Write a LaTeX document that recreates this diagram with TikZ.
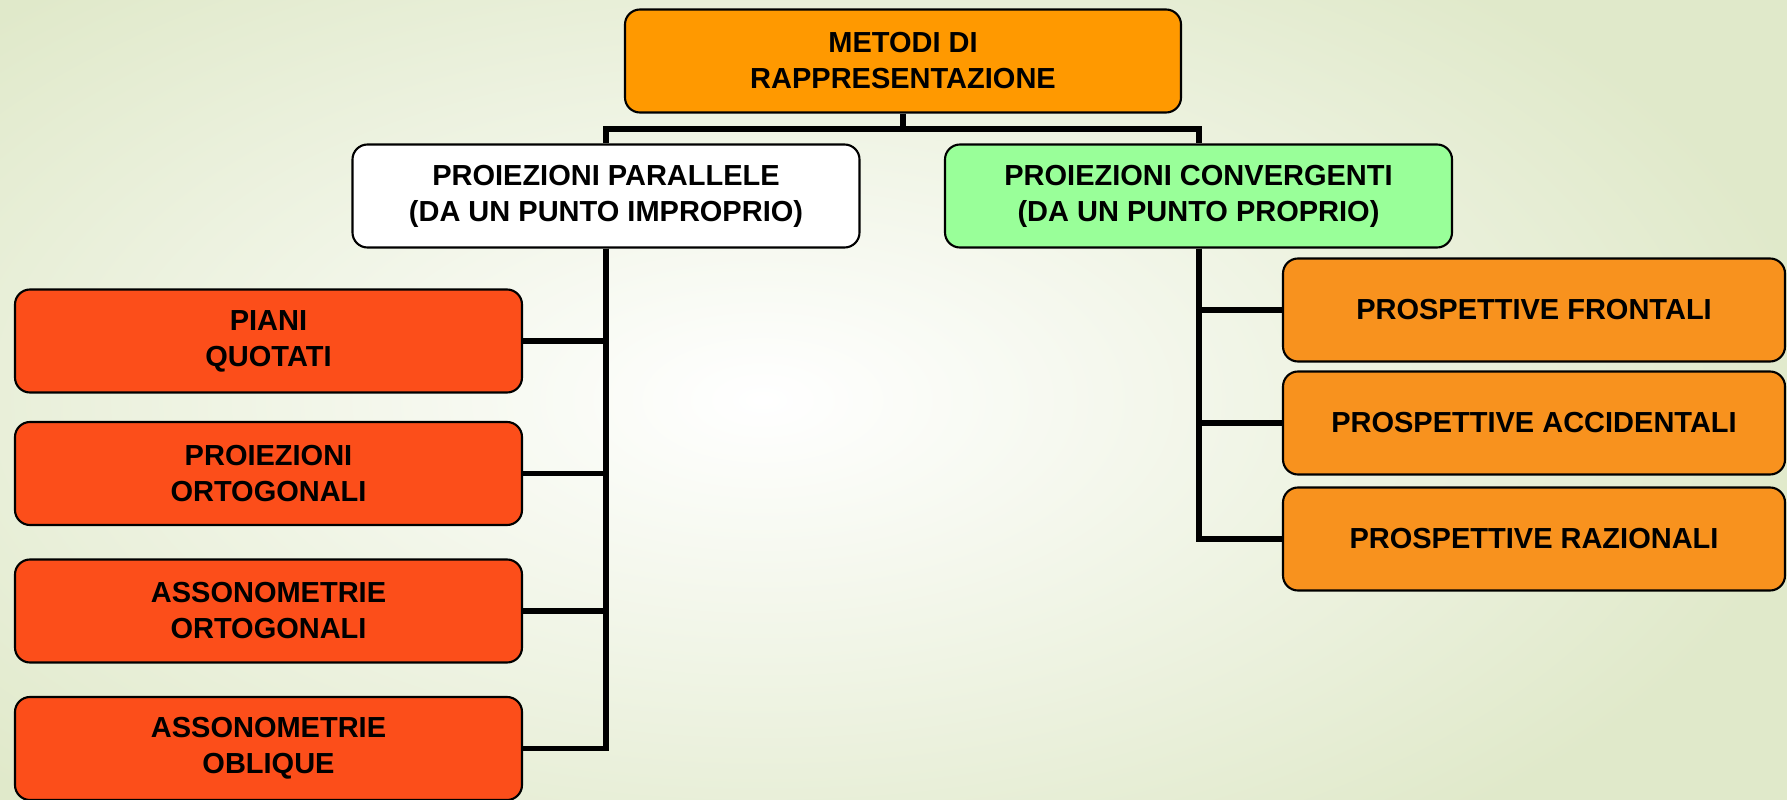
\documentclass[tikz,border=0pt]{standalone}
\usepackage{fontspec}
\setmainfont{Liberation Sans}
\usetikzlibrary{calc}
\begin{document}
\begin{tikzpicture}[
    kasten/.style={draw=black, line width=1.2pt, rounded corners=0.3cm, align=center,
        font=\fontsize{16.5}{20.5}\selectfont\bfseries, minimum height=2.06cm, inner sep=0pt},
    verbindung/.style={line width=3.4pt, black}
]
        % Definiere die Farben
        \definecolor{hintergrund}{RGB}{224, 233, 202}
        \definecolor{kopffarbe}{RGB}{255, 153, 0}
        \definecolor{gruenfarbe}{RGB}{153, 255, 153}
        \definecolor{rotfarbe}{RGB}{252, 78, 26}
        \definecolor{orangefarbe}{RGB}{248, 146, 30}

        % Hintergrund
        \useasboundingbox (0, 0) rectangle (35.74, -16);
        \clip (0, 0) rectangle (35.74, -16);
        \shade[inner color=white, outer color=hintergrund] (-6, 3) rectangle (36.5, -19);

        % Oberster Kasten
        \node[kasten, fill=kopffarbe, minimum width=11.12cm] (metodi) at (18.06, -1.22)
            {METODI DI\\RAPPRESENTAZIONE};

        % Zweite Ebene
        \node[kasten, fill=white, minimum width=10.14cm] (parallele) at (12.12, -3.92)
            {PROIEZIONI PARALLELE\\(DA UN PUNTO IMPROPRIO)};
        \node[kasten, fill=gruenfarbe, minimum width=10.14cm] (convergenti) at (23.97, -3.92)
            {PROIEZIONI CONVERGENTI\\(DA UN PUNTO PROPRIO)};

        % Linke Spalte
        \node[kasten, fill=rotfarbe, minimum width=10.14cm] (piani) at (5.37, -6.82)
            {PIANI\\QUOTATI};
        \node[kasten, fill=rotfarbe, minimum width=10.14cm] (ortogonali) at (5.37, -9.47)
            {PROIEZIONI\\ORTOGONALI};
        \node[kasten, fill=rotfarbe, minimum width=10.14cm] (assort) at (5.37, -12.22)
            {ASSONOMETRIE\\ORTOGONALI};
        \node[kasten, fill=rotfarbe, minimum width=10.14cm] (assobl) at (5.37, -14.97)
            {ASSONOMETRIE\\OBLIQUE};

        % Rechte Spalte
        \node[kasten, fill=orangefarbe, minimum width=10.04cm] (frontali) at (30.68, -6.20)
            {PROSPETTIVE FRONTALI};
        \node[kasten, fill=orangefarbe, minimum width=10.04cm] (accidentali) at (30.68, -8.46)
            {PROSPETTIVE ACCIDENTALI};
        \node[kasten, fill=orangefarbe, minimum width=10.04cm] (razionali) at (30.68, -10.78)
            {PROSPETTIVE RAZIONALI};

        % Verbindungslinien
        \coordinate (knick) at ($(metodi.south) + (0, -0.3)$);
        \draw[verbindung] (metodi.south) -- (knick);
        \draw[verbindung] (knick) -| (parallele.north);
        \draw[verbindung] (knick) -| (convergenti.north);
        \foreach \n in {piani, ortogonali, assort, assobl}
            \draw[verbindung] (parallele.south) |- (\n.east);
        \foreach \n in {frontali, accidentali, razionali}
            \draw[verbindung] (convergenti.south) |- (\n.west);
    \end{tikzpicture}
\end{document}
